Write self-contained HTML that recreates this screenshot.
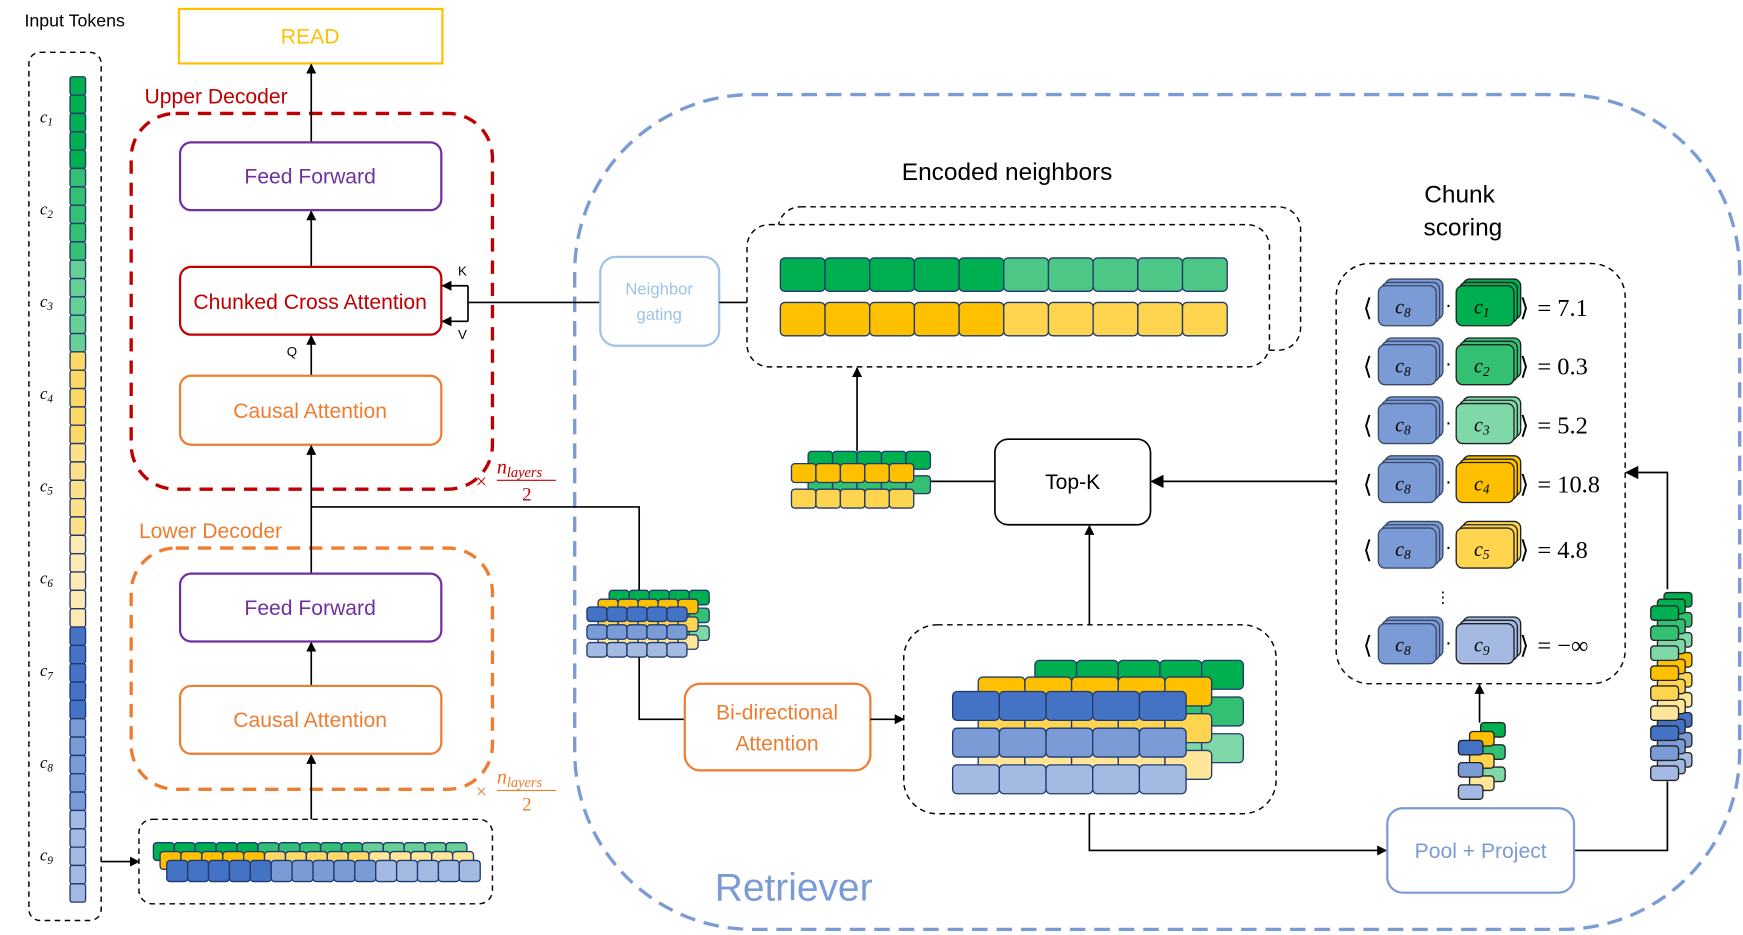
<!DOCTYPE html>
<html><head><meta charset="utf-8"><style>
html,body{margin:0;padding:0;background:#fff;}
svg{display:block;}
text{font-family:"Liberation Sans",sans-serif;}
.m{font-family:"Liberation Serif",serif;font-style:italic;}
.s{font-family:"Liberation Serif",serif;}
</style></head><body>
<svg id="sv" width="1743" height="935" viewBox="0 0 1568 841" xmlns="http://www.w3.org/2000/svg">
<defs>
<marker id="ah" viewBox="0 0 10 10" refX="9" refY="5" markerWidth="9" markerHeight="9" markerUnits="userSpaceOnUse" orient="auto"><path d="M0,0L10,5L0,10z" fill="#000"/></marker>
<marker id="ah2" viewBox="0 0 10 10" refX="9" refY="5" markerWidth="12" markerHeight="12" markerUnits="userSpaceOnUse" orient="auto"><path d="M0,0L10,5L0,10z" fill="#000"/></marker>
</defs>

<!-- Retriever -->
<rect x="517" y="85" width="1048" height="751" rx="160" fill="none" stroke="#7b9bd6" stroke-width="3" stroke-dasharray="14 8"/>
<text x="643" y="810" font-size="35" fill="#7b9bd6">Retriever</text>

<!-- Input tokens -->
<text x="22" y="24" font-size="16">Input Tokens</text>
<rect x="26" y="47" width="65" height="781" rx="10" fill="none" stroke="#000" stroke-width="1.3" stroke-dasharray="5 4"/>
<g font-size="15">
<text x="36" y="110" class="m">c<tspan font-size="10" dy="3">1</tspan></text>
<text x="36" y="193" class="m">c<tspan font-size="10" dy="3">2</tspan></text>
<text x="36" y="276" class="m">c<tspan font-size="10" dy="3">3</tspan></text>
<text x="36" y="359" class="m">c<tspan font-size="10" dy="3">4</tspan></text>
<text x="36" y="442" class="m">c<tspan font-size="10" dy="3">5</tspan></text>
<text x="36" y="525" class="m">c<tspan font-size="10" dy="3">6</tspan></text>
<text x="36" y="608" class="m">c<tspan font-size="10" dy="3">7</tspan></text>
<text x="36" y="691" class="m">c<tspan font-size="10" dy="3">8</tspan></text>
<text x="36" y="774" class="m">c<tspan font-size="10" dy="3">9</tspan></text>
</g>
<g id="cells"></g>

<!-- READ -->
<rect x="161" y="8" width="237" height="49" fill="#fff" stroke="#ffc000" stroke-width="2"/>
<text x="279" y="39" font-size="19" fill="#ffc000" text-anchor="middle">READ</text>

<!-- Upper decoder -->
<text x="130" y="93" font-size="19" fill="#c00000">Upper Decoder</text>
<rect x="118" y="102" width="325" height="338" rx="40" fill="none" stroke="#c00000" stroke-width="3" stroke-dasharray="12 8"/>
<line x1="280" y1="128" x2="280" y2="58" stroke="#000" stroke-width="1.5" marker-end="url(#ah)"/>
<line x1="280" y1="240" x2="280" y2="190" stroke="#000" stroke-width="1.5" marker-end="url(#ah)"/>
<line x1="280" y1="338" x2="280" y2="302" stroke="#000" stroke-width="1.5" marker-end="url(#ah)"/>
<rect x="162" y="128" width="235" height="61" rx="10" fill="#fff" stroke="#7030a0" stroke-width="2"/>
<text x="279" y="165" font-size="19" fill="#7030a0" text-anchor="middle">Feed Forward</text>
<rect x="162" y="240" width="235" height="61" rx="10" fill="#fff" stroke="#c00000" stroke-width="2"/>
<text x="279" y="278" font-size="19" fill="#c00000" text-anchor="middle">Chunked Cross Attention</text>
<rect x="162" y="338" width="235" height="62" rx="10" fill="#fff" stroke="#ed7d31" stroke-width="2"/>
<text x="279" y="376" font-size="19" fill="#ed7d31" text-anchor="middle">Causal Attention</text>
<text x="258" y="320" font-size="12">Q</text>
<text x="412" y="248" font-size="12">K</text>
<text x="412" y="305" font-size="12">V</text>
<path d="M421,257 L421,289" stroke="#000" stroke-width="1.5" fill="none"/>
<line x1="421" y1="257" x2="398" y2="257" stroke="#000" stroke-width="1.5" marker-end="url(#ah)"/>
<line x1="421" y1="289" x2="398" y2="289" stroke="#000" stroke-width="1.5" marker-end="url(#ah)"/>
<line x1="421" y1="272" x2="540" y2="272" stroke="#000" stroke-width="1.5"/>
<text x="428" y="439" font-size="18" fill="#c00000" class="s">×</text>
<text x="447" y="426" font-size="18" fill="#c00000" class="m">n<tspan font-size="13" dy="3">layers</tspan></text>
<line x1="447" y1="432" x2="500" y2="432" stroke="#c00000" stroke-width="1"/>
<text x="474" y="450" font-size="17" fill="#c00000" class="s" text-anchor="middle">2</text>

<!-- Lower decoder -->
<text x="125" y="484" font-size="19" fill="#ed7d31">Lower Decoder</text>
<rect x="118" y="493" width="325" height="217" rx="40" fill="none" stroke="#ed7d31" stroke-width="3" stroke-dasharray="12 8"/>
<line x1="280" y1="516" x2="280" y2="401" stroke="#000" stroke-width="1.5" marker-end="url(#ah)"/>
<line x1="280" y1="617" x2="280" y2="578" stroke="#000" stroke-width="1.5" marker-end="url(#ah)"/>
<line x1="280" y1="737" x2="280" y2="679" stroke="#000" stroke-width="1.5" marker-end="url(#ah)"/>
<rect x="162" y="516" width="235" height="61" rx="10" fill="#fff" stroke="#7030a0" stroke-width="2"/>
<text x="279" y="553" font-size="19" fill="#7030a0" text-anchor="middle">Feed Forward</text>
<rect x="162" y="617" width="235" height="61" rx="10" fill="#fff" stroke="#ed7d31" stroke-width="2"/>
<text x="279" y="654" font-size="19" fill="#ed7d31" text-anchor="middle">Causal Attention</text>
<text x="428" y="718" font-size="18" fill="#ed7d31" class="s">×</text>
<text x="447" y="705" font-size="18" fill="#ed7d31" class="m">n<tspan font-size="13" dy="3">layers</tspan></text>
<line x1="447" y1="711" x2="500" y2="711" stroke="#ed7d31" stroke-width="1"/>
<text x="474" y="729" font-size="17" fill="#ed7d31" class="s" text-anchor="middle">2</text>

<rect x="125" y="737" width="318" height="76" rx="12" fill="none" stroke="#000" stroke-width="1.3" stroke-dasharray="5 4"/>
<line x1="91" y1="775" x2="125" y2="775" stroke="#000" stroke-width="1.5" marker-end="url(#ah)"/>

<!-- branch to retriever -->
<path d="M280,456 L575,456 L575,531" stroke="#000" stroke-width="1.5" fill="none"/>
<path d="M575,588 L575,647 L616,647" stroke="#000" stroke-width="1.5" fill="none"/>
<rect x="616" y="615" width="167" height="78" rx="14" fill="#fff" stroke="#ed7d31" stroke-width="2"/>
<text x="699" y="647" font-size="19" fill="#ed7d31" text-anchor="middle">Bi-directional</text>
<text x="699" y="675" font-size="19" fill="#ed7d31" text-anchor="middle">Attention</text>
<line x1="783" y1="647" x2="813" y2="647" stroke="#000" stroke-width="1.5" marker-end="url(#ah)"/>
<rect x="813" y="562" width="335" height="170" rx="30" fill="none" stroke="#000" stroke-width="1.3" stroke-dasharray="5 4"/>
<line x1="980" y1="562" x2="980" y2="473" stroke="#000" stroke-width="1.5" marker-end="url(#ah)"/>
<path d="M980,732 L980,765 L1247,765" stroke="#000" stroke-width="1.5" fill="none" marker-end="url(#ah)"/>

<!-- Neighbor gating -->
<rect x="540" y="231" width="107" height="80" rx="14" fill="#fff" stroke="#9dc3e6" stroke-width="2"/>
<text x="593" y="265" font-size="15" fill="#9dc3e6" text-anchor="middle">Neighbor</text>
<text x="593" y="288" font-size="15" fill="#9dc3e6" text-anchor="middle">gating</text>
<line x1="647" y1="272" x2="672" y2="272" stroke="#000" stroke-width="1.5"/>

<!-- Encoded neighbors -->
<text x="906" y="162" font-size="22" text-anchor="middle">Encoded neighbors</text>
<rect x="700" y="186" width="470" height="129" rx="20" fill="#fff" stroke="#000" stroke-width="1.3" stroke-dasharray="5 4"/>
<rect x="672" y="202" width="470" height="128" rx="20" fill="#fff" stroke="#000" stroke-width="1.3" stroke-dasharray="5 4"/>
<line x1="771" y1="406" x2="771" y2="331" stroke="#000" stroke-width="1.5" marker-end="url(#ah)"/>
<line x1="837" y1="433" x2="895" y2="433" stroke="#000" stroke-width="1.5"/>

<!-- Top-K -->
<rect x="895" y="395" width="140" height="77" rx="12" fill="#fff" stroke="#000" stroke-width="1.5"/>
<text x="965" y="440" font-size="19" text-anchor="middle">Top-K</text>
<line x1="1202" y1="433" x2="1036" y2="433" stroke="#000" stroke-width="1.5" marker-end="url(#ah2)"/>

<!-- Chunk scoring -->
<text x="1313" y="182" font-size="22" text-anchor="middle">Chunk</text>
<text x="1316" y="212" font-size="22" text-anchor="middle">scoring</text>
<rect x="1202" y="237" width="260" height="378" rx="30" fill="none" stroke="#000" stroke-width="1.3" stroke-dasharray="5 4"/>
<g id="score"></g>
<text x="1298" y="542" font-size="14" text-anchor="middle">⋮</text>
<line x1="1331" y1="650" x2="1331" y2="616" stroke="#000" stroke-width="1.5" marker-end="url(#ah)"/>
<path d="M1500,530 L1500,425 L1463,425" stroke="#000" stroke-width="1.5" fill="none" marker-end="url(#ah2)"/>
<path d="M1416,765 L1500,765 L1500,703" stroke="#000" stroke-width="1.5" fill="none"/>

<!-- Pool + Project -->
<rect x="1248" y="727" width="168" height="76" rx="14" fill="#fff" stroke="#7b9bd6" stroke-width="2"/>
<text x="1332" y="772" font-size="19" fill="#7b9bd6" text-anchor="middle">Pool + Project</text>
<g id="cells2"></g>
</svg>
<script>
var NS="http://www.w3.org/2000/svg";
var G1="#00b050",G2="#33c072",G3="#7fd8a8",Y1="#ffc000",Y2="#ffd54f",Y3="#ffe699",B1="#4472c4",B2="#7b9bd6",B3="#a4bae3",ST="#1f3a6e";
function R(g,x,y,w,h,f,rx,s,sw){var r=document.createElementNS(NS,"rect");r.setAttribute("x",x);r.setAttribute("y",y);r.setAttribute("width",w);r.setAttribute("height",h);r.setAttribute("rx",rx||3);r.setAttribute("fill",f);r.setAttribute("stroke",s||ST);r.setAttribute("stroke-width",sw||1.2);g.appendChild(r);}
var g=document.getElementById("cells"),g2=document.getElementById("cells2"),sc=document.getElementById("score");
var col=[G1,G2,"#66d095","#ffd966","#ffe08a","#ffeab3",B1,B2,B3];
for(var i=0;i<45;i++)R(g,63,69+i*16.5,14,16.5,col[Math.floor(i/5)],2);
var c15a=[G1,G1,G1,G1,G1,G2,G2,G2,G2,G2,"#66d095","#66d095","#66d095","#66d095","#66d095"];
var c15b=[Y1,Y1,Y1,Y1,Y1,"#ffd966","#ffd966","#ffd966","#ffd966","#ffd966",Y3,Y3,Y3,Y3,Y3];
var c15c=[B1,B1,B1,B1,B1,B2,B2,B2,B2,B2,B3,B3,B3,B3,B3];
for(var i=0;i<15;i++)R(g,138+i*18.8,758,18.8,16,c15a[i]);
for(var i=0;i<15;i++)R(g,144+i*18.8,766,18.8,16,c15b[i]);
for(var i=0;i<15;i++)R(g,150+i*18.8,774,18.8,19,c15c[i]);
for(var i=0;i<10;i++){R(g2,702+i*40.2,232,40.2,30,i<5?G1:"#4cc785",4);R(g2,702+i*40.2,272,40.2,30,i<5?Y1:Y2,4);}
for(var i=0;i<5;i++)R(g2,727+i*22,406,22,16,G1);
for(var i=0;i<5;i++)R(g2,727+i*22,428,22,16,G2);
for(var i=0;i<5;i++)R(g2,712+i*22,417,22,17,Y1);
for(var i=0;i<5;i++)R(g2,712+i*22,440,22,17,Y2);
var gc=[G1,G2,G3],yc=[Y1,Y2,Y3],bc=[B1,B2,B3];
for(var r=0;r<3;r++)for(var i=0;i<5;i++)R(g2,548+i*18,531+r*16,18,13,gc[r]);
for(var r=0;r<3;r++)for(var i=0;i<5;i++)R(g2,538+i*18,539+r*16,18,13,yc[r]);
for(var r=0;r<3;r++)for(var i=0;i<5;i++)R(g2,528+i*18,546+r*16,18,13,bc[r]);
for(var r=0;r<3;r++)for(var i=0;i<5;i++)R(g2,931+i*37.5,594+r*33,37.5,26,gc[r],4);
for(var r=0;r<3;r++)for(var i=0;i<5;i++)R(g2,880+i*42,609+r*33,42,26,yc[r],4);
for(var r=0;r<3;r++)for(var i=0;i<5;i++)R(g2,857+i*42,622+r*33,42,26,bc[r],4);
var rc=[G1,G2,G3,Y1,Y2,Y3,B1,B2,B3];
for(var d=2;d>=0;d--)for(var i=0;i<9;i++)R(g2,1485+d*6,545+i*18-d*6,25,13,rc[i],3,"#222",1.2);
var pc=[[G1,G2,G3],[Y1,Y2,Y3],[B1,B2,B3]];
for(var d=0;d<3;d++)for(var i=0;i<3;i++)R(g2,1332-d*10,650+i*20+d*8,22,13,pc[d][i],3,"#222",1.2);
var ys=[276,329,382,435,494,580],cc=[G1,G2,"#7fd8a8",Y1,Y2,B3],sub=["1","2","3","4","5","9"],val=["= 7.1","= 0.3","= 5.2","= 10.8","= 4.8","= −∞"];
for(var k=0;k<6;k++){var y=ys[k];
 for(var d=2;d>=0;d--){R(sc,1240+d*3,y-19-d*3,52,36,B2,6,"#3a4a66",1.2);}
 for(var d=2;d>=0;d--){R(sc,1310+d*3,y-19-d*3,52,36,cc[k],6,"#222",1.2);}
 var t;
 t=document.createElementNS(NS,"text");t.setAttribute("x",1226);t.setAttribute("y",y+8);t.setAttribute("font-size","22");t.setAttribute("class","s");t.textContent="⟨";sc.appendChild(t);
 t=document.createElementNS(NS,"text");t.setAttribute("x",1255);t.setAttribute("y",y+6);t.setAttribute("font-size","18");t.setAttribute("class","m");t.innerHTML='c<tspan font-size="12" dy="3">8</tspan>';sc.appendChild(t);
 t=document.createElementNS(NS,"text");t.setAttribute("x",1300);t.setAttribute("y",y+4);t.setAttribute("font-size","18");t.textContent="·";sc.appendChild(t);
 t=document.createElementNS(NS,"text");t.setAttribute("x",1326);t.setAttribute("y",y+6);t.setAttribute("font-size","18");t.setAttribute("class","m");t.innerHTML='c<tspan font-size="12" dy="3">'+sub[k]+'</tspan>';sc.appendChild(t);
 t=document.createElementNS(NS,"text");t.setAttribute("x",1367);t.setAttribute("y",y+8);t.setAttribute("font-size","22");t.setAttribute("class","s");t.textContent="⟩";sc.appendChild(t);
 t=document.createElementNS(NS,"text");t.setAttribute("x",1383);t.setAttribute("y",y+8);t.setAttribute("font-size","22");t.setAttribute("class","s");t.textContent=val[k];sc.appendChild(t);
}
</script>
</body></html>
